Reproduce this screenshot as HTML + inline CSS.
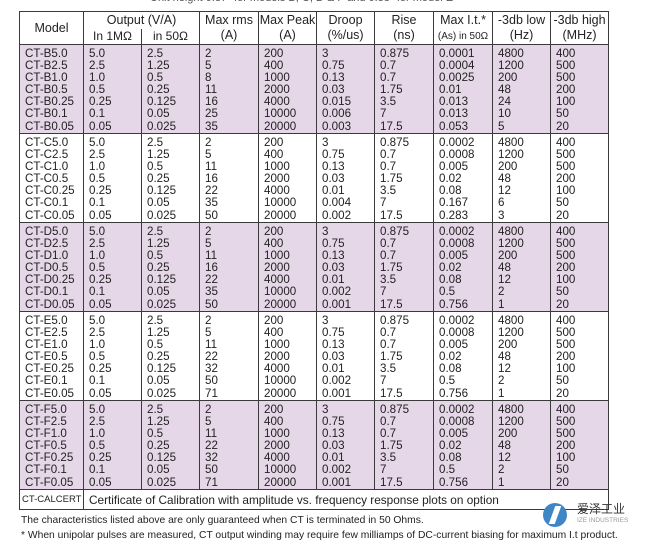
<!DOCTYPE html>
<html><head><meta charset="utf-8"><style>
html,body{margin:0;padding:0;background:#fff;width:654px;height:545px;overflow:hidden;position:relative;font-family:"Liberation Sans","Noto Sans CJK SC",sans-serif;color:#222}
.top{position:absolute;left:150px;top:-8px;font-size:11px;color:#555}
table{position:absolute;left:19px;top:11px;border-collapse:collapse;table-layout:fixed;width:590px}
td,th{border:1.5px solid #3a3a3a;padding:0;vertical-align:top;overflow:hidden;white-space:nowrap}
th{font-weight:normal;font-size:12.5px;text-align:center;vertical-align:middle;line-height:15px;background:#fff}
td{font-size:11.6px;line-height:12.1px;padding:3px 0 0 5px}
tr.p td{background:#e6d7e8}
tr.g td{height:85px}
.sub{font-size:12px}
.foot{position:absolute;left:21px;font-size:10.3px;color:#222}
.logo{position:absolute;left:543px;top:503px;width:24px;height:24px;border-radius:50%;background:#3f86c6}
.logo:after{content:"";position:absolute;left:9px;top:3px;width:6px;height:18px;background:#fff;transform:skewX(-20deg)}
.cn{position:absolute;left:577px;top:500px;font-size:12px;color:#333}
.en{position:absolute;left:577px;top:517px;font-size:6.5px;color:#999}
</style></head><body>
<div class="top">Unit height 0.87" for models B, C, D &amp; F and 0.88" for model E</div>
<table>
<colgroup><col style="width:64px"><col style="width:58px"><col style="width:58px"><col style="width:59px"><col style="width:58px"><col style="width:58px"><col style="width:59px"><col style="width:59px"><col style="width:58px"><col style="width:58px"></colgroup>
<tr style="height:17px"><th rowspan="2">Model</th><th colspan="2" style="border-bottom:none">Output (V/A)</th><th rowspan="2">Max rms<br>(A)</th><th rowspan="2">Max Peak<br>(A)</th><th rowspan="2">Droop<br>(%/us)</th><th rowspan="2">Rise<br>(ns)</th><th rowspan="2">Max I.t.*<br><span style="font-size:10px">(As) in 50Ω</span></th><th rowspan="2">-3db low<br>(Hz)</th><th rowspan="2">-3db high<br>(MHz)</th></tr>
<tr style="height:16px"><th class="sub" style="border-top:none">In 1MΩ</th><th class="sub" style="border-top:none">in 50Ω</th></tr>
<tr class="g p"><td>CT-B5.0<br>CT-B2.5<br>CT-B1.0<br>CT-B0.5<br>CT-B0.25<br>CT-B0.1<br>CT-B0.05</td><td>5.0<br>2.5<br>1.0<br>0.5<br>0.25<br>0.1<br>0.05</td><td>2.5<br>1.25<br>0.5<br>0.25<br>0.125<br>0.05<br>0.025</td><td>2<br>5<br>8<br>11<br>16<br>25<br>35</td><td>200<br>400<br>1000<br>2000<br>4000<br>10000<br>20000</td><td>3<br>0.75<br>0.13<br>0.03<br>0.015<br>0.006<br>0.003</td><td>0.875<br>0.7<br>0.7<br>1.75<br>3.5<br>7<br>17.5</td><td>0.0001<br>0.0004<br>0.0025<br>0.01<br>0.013<br>0.013<br>0.053</td><td>4800<br>1200<br>200<br>48<br>24<br>10<br>5</td><td>400<br>500<br>500<br>200<br>100<br>50<br>20</td></tr>
<tr class="g"><td>CT-C5.0<br>CT-C2.5<br>CT-C1.0<br>CT-C0.5<br>CT-C0.25<br>CT-C0.1<br>CT-C0.05</td><td>5.0<br>2.5<br>1.0<br>0.5<br>0.25<br>0.1<br>0.05</td><td>2.5<br>1.25<br>0.5<br>0.25<br>0.125<br>0.05<br>0.025</td><td>2<br>5<br>11<br>16<br>22<br>35<br>50</td><td>200<br>400<br>1000<br>2000<br>4000<br>10000<br>20000</td><td>3<br>0.75<br>0.13<br>0.03<br>0.01<br>0.004<br>0.002</td><td>0.875<br>0.7<br>0.7<br>1.75<br>3.5<br>7<br>17.5</td><td>0.0002<br>0.0008<br>0.005<br>0.02<br>0.08<br>0.167<br>0.283</td><td>4800<br>1200<br>200<br>48<br>12<br>6<br>3</td><td>400<br>500<br>500<br>200<br>100<br>50<br>20</td></tr>
<tr class="g p"><td>CT-D5.0<br>CT-D2.5<br>CT-D1.0<br>CT-D0.5<br>CT-D0.25<br>CT-D0.1<br>CT-D0.05</td><td>5.0<br>2.5<br>1.0<br>0.5<br>0.25<br>0.1<br>0.05</td><td>2.5<br>1.25<br>0.5<br>0.25<br>0.125<br>0.05<br>0.025</td><td>2<br>5<br>11<br>16<br>22<br>35<br>50</td><td>200<br>400<br>1000<br>2000<br>4000<br>10000<br>20000</td><td>3<br>0.75<br>0.13<br>0.03<br>0.01<br>0.002<br>0.001</td><td>0.875<br>0.7<br>0.7<br>1.75<br>3.5<br>7<br>17.5</td><td>0.0002<br>0.0008<br>0.005<br>0.02<br>0.08<br>0.5<br>0.756</td><td>4800<br>1200<br>200<br>48<br>12<br>2<br>1</td><td>400<br>500<br>500<br>200<br>100<br>50<br>20</td></tr>
<tr class="g"><td>CT-E5.0<br>CT-E2.5<br>CT-E1.0<br>CT-E0.5<br>CT-E0.25<br>CT-E0.1<br>CT-E0.05</td><td>5.0<br>2.5<br>1.0<br>0.5<br>0.25<br>0.1<br>0.05</td><td>2.5<br>1.25<br>0.5<br>0.25<br>0.125<br>0.05<br>0.025</td><td>2<br>5<br>11<br>22<br>32<br>50<br>71</td><td>200<br>400<br>1000<br>2000<br>4000<br>10000<br>20000</td><td>3<br>0.75<br>0.13<br>0.03<br>0.01<br>0.002<br>0.001</td><td>0.875<br>0.7<br>0.7<br>1.75<br>3.5<br>7<br>17.5</td><td>0.0002<br>0.0008<br>0.005<br>0.02<br>0.08<br>0.5<br>0.756</td><td>4800<br>1200<br>200<br>48<br>12<br>2<br>1</td><td>400<br>500<br>500<br>200<br>100<br>50<br>20</td></tr>
<tr class="g p"><td>CT-F5.0<br>CT-F2.5<br>CT-F1.0<br>CT-F0.5<br>CT-F0.25<br>CT-F0.1<br>CT-F0.05</td><td>5.0<br>2.5<br>1.0<br>0.5<br>0.25<br>0.1<br>0.05</td><td>2.5<br>1.25<br>0.5<br>0.25<br>0.125<br>0.05<br>0.025</td><td>2<br>5<br>11<br>22<br>32<br>50<br>71</td><td>200<br>400<br>1000<br>2000<br>4000<br>10000<br>20000</td><td>3<br>0.75<br>0.13<br>0.03<br>0.01<br>0.002<br>0.001</td><td>0.875<br>0.7<br>0.7<br>1.75<br>3.5<br>7<br>17.5</td><td>0.0002<br>0.0008<br>0.005<br>0.02<br>0.08<br>0.5<br>0.756</td><td>4800<br>1200<br>200<br>48<br>12<br>2<br>1</td><td>400<br>500<br>500<br>200<br>100<br>50<br>20</td></tr>
<tr style="height:20px"><td style="font-size:9.5px;padding:4px 0 0 2px">CT-CALCERT</td><td colspan="9" style="padding-top:4px;font-size:11.8px">Certificate of Calibration with amplitude vs. frequency response plots on option</td></tr>
</table>
<div class="foot" style="top:515px">The characteristics listed above are only guaranteed when CT is terminated in 50 Ohms.</div>
<div class="foot" style="top:530px">* When unipolar pulses are measured, CT output winding may require few milliamps of DC-current biasing for maximum I.t product.</div>
<div class="logo"></div>
<div class="cn">爱泽工业</div>
<div class="en">IZE INDUSTRIES</div>
</body></html>
